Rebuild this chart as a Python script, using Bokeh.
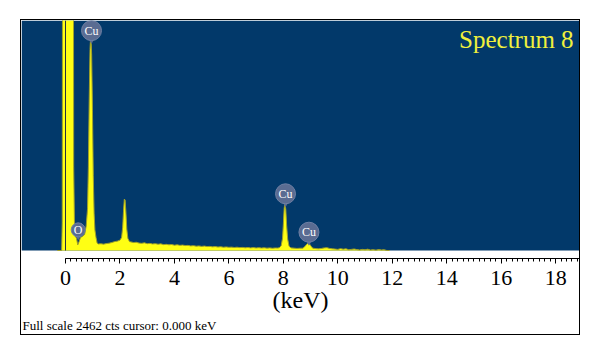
from bokeh.plotting import figure
from bokeh.models import Range1d, BoxAnnotation, SingleIntervalTicker, Title, Label, ColumnDataSource
from bokeh.core.properties import value
from bokeh.embed import file_html
from bokeh.resources import INLINE

# ---------------- data ----------------
energy_kev = [
    -0.30, -0.14, -0.12, -0.11, -0.10, 0.28, 0.30, 0.33, 0.36, 0.40, 0.45, 0.50, 0.55, 0.62, 0.70, 0.76,
    0.81, 0.84, 0.87, 0.90, 0.93, 0.96, 0.99, 1.02, 1.05, 1.08, 1.12, 1.16,
    1.20, 1.30, 1.40, 1.50, 1.60, 1.70, 1.80, 1.90, 2.00,
    2.06, 2.10, 2.13, 2.16, 2.19, 2.22, 2.25, 2.29, 2.35,
    2.40, 2.50, 2.60, 2.70, 2.80, 2.90, 3.00, 3.10, 3.20, 3.30, 3.40, 3.50, 3.60, 3.70, 3.80, 3.90,
    4.00, 4.10, 4.20, 4.30, 4.40, 4.50, 4.60, 4.70, 4.80, 4.90, 5.00, 5.10, 5.20, 5.30, 5.40, 5.50,
    5.60, 5.70, 5.80, 5.90, 6.00, 6.10, 6.20, 6.30, 6.40, 6.50, 6.60, 6.70, 6.80, 6.90, 7.00, 7.10,
    7.20, 7.30, 7.40, 7.50, 7.60, 7.70, 7.80,
    7.85, 7.92, 7.97, 8.00, 8.03, 8.06, 8.09, 8.12, 8.16, 8.21, 8.28,
    8.40, 8.50, 8.60, 8.72, 8.78, 8.84, 8.90, 8.96, 9.02, 9.08,
    9.20, 9.30, 9.40, 9.50, 9.60, 9.70, 9.80, 9.90, 10.00, 10.10, 10.20, 10.30, 10.40, 10.50,
    10.60, 10.70, 10.80, 10.90, 11.00, 11.10, 11.20, 11.30, 11.40, 11.50, 11.60, 11.70, 11.80, 11.90,
]
counts = [
    0, 0, 300, 3000, 6000, 6000, 900, 260, 150, 135, 60, 95, 140, 150, 170, 260,
    450, 900, 1600, 2150, 2330, 2100, 1500, 800, 400, 220, 140, 80,
    70, 72, 68, 74, 78, 85, 95, 100, 110,
    140, 250, 420, 550, 540, 400, 230, 130, 95,
    92, 85, 88, 79, 77, 82, 73, 76, 70, 73, 67, 71, 63, 66, 61, 64,
    57, 61, 55, 58, 53, 55, 49, 52, 46, 49, 44, 47, 42, 44, 39, 42,
    37, 40, 35, 38, 34, 36, 32, 35, 31, 33, 29, 32, 28, 31, 27, 30,
    26, 29, 25, 28, 24, 27, 26,
    30, 50, 130, 280, 450, 505, 440, 270, 120, 45, 28,
    25, 22, 24, 25, 40, 60, 78, 70, 45, 25,
    20, 18, 22, 28, 30, 22, 18, 15, 12, 20, 14, 18, 8, 12,
    16, 10, 6, 12, 8, 14, 5, 9, 4, 10, 6, 8, 0, 0,
]

peak_labels = ["Cu", "O", "Cu", "Cu"]
label_kev = [0.955, 0.466, 8.08, 8.94]
label_counts = [2354, 221, 607, 196]
label_radius_px = [10, 7, 10, 10]

x_ticks_interval = 2
full_scale_cts = 2462
title_text = "Spectrum 8"
footer_text = "Full scale 2462 cts cursor: 0.000 keV"
x_label = "(keV)"

# ---------------- layout constants ----------------
FRAME_W = 558
FRAME_H = 238          # frame height in px (axis line at frame bottom)
BASE_PX = 8            # px from frame bottom up to the zero-count baseline
cpp = full_scale_cts / (FRAME_H - BASE_PX)   # counts per pixel
X0, X1 = -1.616, 18.876

BLUE = "#02396a"
YELLOW = "#ffff14"
SERIF = "Liberation Serif"

p = figure(frame_width=FRAME_W, frame_height=FRAME_H, output_backend="svg", toolbar_location=None,
           x_range=Range1d(X0, X1), y_range=Range1d(-BASE_PX * cpp, full_scale_cts),
           y_axis_type=None, min_border_left=0, min_border_right=0, min_border_top=0,
           min_border_bottom=76, margin=(20, 0, 0, 21),
           outline_line_color=None, background_fill_color="white", border_fill_color="white")
p.styles = {"outline": "1px solid black"}
p.grid.visible = False

p.add_layout(BoxAnnotation(bottom=0, fill_color=BLUE, fill_alpha=1, line_color=None, level="underlay"))

src = ColumnDataSource(dict(x=energy_kev, y=counts))
p.varea(x="x", y1=0, y2="y", source=src, fill_color=YELLOW)
p.line(x="x", y="y", source=src, line_color="#a0a028", line_width=1)
p.segment(x0=[0], y0=[0], x1=[0], y1=[full_scale_cts], line_color="#263040", line_width=1)

# peak labels
lab = ColumnDataSource(dict(x=label_kev, y=label_counts, t=peak_labels, r=label_radius_px,
                            yp=[c - r * cpp for c, r in zip(label_counts, label_radius_px)]))
p.scatter(x="x", y="yp", source=lab, marker="inverted_triangle", size=6,
          fill_color="#5a6c92", line_color=None)
p.circle(x="x", y="y", radius="r", radius_units="screen", source=lab,
         fill_color="#5a6c92", line_color="#6f80a4", line_width=1)
p.text(x="x", y="y", text="t", source=lab, text_color="white", text_font=value(SERIF),
       text_font_size="12px", text_align="center", text_baseline="middle")

p.add_layout(Label(x=18.66, y=(FRAME_H - BASE_PX - 19) * cpp, text=title_text, text_color="#f0f03c",
                   text_font=SERIF, text_font_size="25px", text_align="right", text_baseline="middle"))

ax = p.xaxis[0]
ax.ticker = SingleIntervalTicker(interval=x_ticks_interval, num_minor_ticks=10)
ax.bounds = (0, X1)
ax.axis_line_color = "black"
ax.major_tick_in = 0
ax.major_tick_out = 5
ax.minor_tick_in = 0
ax.minor_tick_out = 3
ax.major_label_standoff = 7
ax.major_label_text_font = SERIF
ax.major_label_text_font_size = "22px"
ax.major_label_text_color = "black"
ax.axis_label = x_label
ax.axis_label_standoff = -1
ax.axis_label_text_font = SERIF
ax.axis_label_text_font_size = "24px"
ax.axis_label_text_font_style = "normal"
ax.axis_label_text_color = "black"

p.add_layout(Title(text=footer_text, align="left", text_font=SERIF, text_font_size="13px",
                   text_font_style="normal", text_color="black", offset=1, standoff=0), "below")

open("out.html", "w").write(file_html(p, INLINE))
